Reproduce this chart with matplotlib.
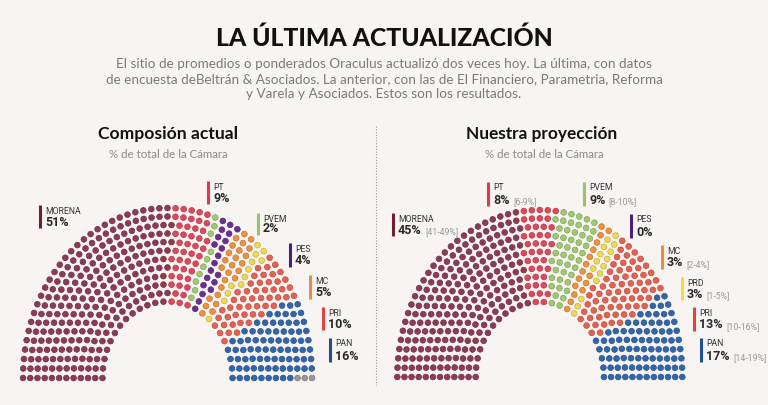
import numpy as np
import matplotlib
matplotlib.use('Agg')
import matplotlib.pyplot as plt
from matplotlib.colors import to_rgb

# ---------------- data ----------------
seat_parties_current = ['MORENA', 'PT', 'PVEM', 'PES', 'MC', 'PRD', 'PRI', 'PAN', 'SP']
seats_current = [255, 45, 10, 20, 25, 12, 50, 80, 3]

seat_parties_proj = ['MORENA', 'PT', 'PVEM', 'MC', 'PRD', 'PRI', 'PAN']
seats_proj = [226, 42, 46, 16, 15, 68, 87]

labels_current = ['MORENA', 'PT', 'PVEM', 'PES', 'MC', 'PRI', 'PAN']
pct_current = ['51%', '9%', '2%', '4%', '5%', '10%', '16%']

labels_proj = ['MORENA', 'PT', 'PVEM', 'PES', 'MC', 'PRD', 'PRI', 'PAN']
pct_proj = ['45%', '8%', '9%', '0%', '3%', '3%', '13%', '17%']
range_proj = ['[41-49%]', '[6-9%]', '[8-10%]', '', '[2-4%]', '[1-5%]', '[10-16%]', '[14-19%]']

dot_colors = {
    'MORENA': '#8c3b52', 'PT': '#e0475c', 'PVEM': '#9fcb70', 'PES': '#6b2f94',
    'MC': '#f0913e', 'PRD': '#f4d94e', 'PRI': '#e8604f', 'PAN': '#2f66ad', 'SP': '#9a9a9a',
}
bar_colors = {
    'MORENA': '#6e1f33', 'PT': '#dd3a50', 'PVEM': '#92c86a', 'PES': '#4d1f7a',
    'MC': '#ef8a3c', 'PRD': '#f3d94a', 'PRI': '#e0443e', 'PAN': '#1f4f9a',
}

BG = '#f8f4f2'

# ---------------- layout helpers ----------------
def seat_layout(total, rows=12, r_in=0.45):
    radii = np.linspace(r_in, 1.0, rows)
    raw = radii / radii.sum() * total
    n = np.floor(raw).astype(int)
    rem = total - n.sum()
    order = np.argsort(-(raw - n))
    n[order[:rem]] += 1
    pts = []
    for r, k in zip(radii, n):
        for t in np.linspace(np.pi, 0, k):
            pts.append((t, r))
    pts.sort(key=lambda p: (-round(p[0], 9), p[1]))
    return np.array(pts)


def darker(c, f=0.8):
    r, g, b = to_rgb(c)
    return (r * f, g * f, b * f)


def draw_hemicycle(ax, parties, seats, cx, by, rx, ry):
    pts = seat_layout(sum(seats))
    cols = []
    for p, s in zip(parties, seats):
        cols += [dot_colors[p]] * s
    edges = [darker(c) for c in cols]
    x = cx + rx * pts[:, 1] * np.cos(pts[:, 0])
    y = by - ry * pts[:, 1] * np.sin(pts[:, 0])
    ax.scatter(x, y, s=17, c=cols, edgecolors=edges, linewidths=0.5, zorder=3)


def party_label(ax, x, y0, y1, party, name, pct, rng=''):
    ax.plot([x, x], [y0, y1], color=bar_colors[party], lw=2.2, solid_capstyle='butt', zorder=4)
    ax.text(x + 5, y0 + 1.5, name, fontsize=6.2, family='Roboto', color='#333333',
            va='top', ha='left')
    t = ax.text(x + 5, y1 + 0.5, pct, fontsize=9, family='Roboto', fontweight='bold',
                color='#2a2a2a', va='bottom', ha='left')
    if rng:
        ax.annotate(rng, xy=(1, 0), xycoords=t, xytext=(2.5, 0.6), textcoords='offset points',
                    fontsize=6.3, family='Roboto', color='#9a9a9a', va='bottom', ha='left')


# ---------------- figure ----------------
fig = plt.figure(figsize=(7.68, 4.05), dpi=100, facecolor=BG)
ax = fig.add_axes([0, 0, 1, 1])
ax.set_xlim(0, 768)
ax.set_ylim(405, 0)
ax.axis('off')
ax.set_facecolor(BG)

ax.text(384, 38, 'LA ÚLTIMA ACTUALIZACIÓN', ha='center', va='center', fontsize=17.8,
        family='Lato', fontweight='black', color='#111111')
sub = ('El sitio de promedios o ponderados Oraculus actualizó dos veces hoy. La última, con datos\n'
       'de encuesta deBeltrán & Asociados. La anterior, con las de El Financiero, Parametria, Reforma\n'
       'y Varela y Asociados. Estos son los resultados.')
ax.text(384, 79.5, sub, ha='center', va='center', fontsize=9.7, family='Lato', color='#7a7a7a',
        linespacing=1.3)

ax.text(168, 134, 'Composión actual', ha='center', va='center', fontsize=12.6, family='Lato',
        fontweight='bold', color='#111111')
ax.text(168, 154, '% de total de la Cámara', ha='center', va='center', fontsize=8.3, family='Lato',
        color='#8a8a8a')
ax.text(542, 134, 'Nuestra proyección', ha='center', va='center', fontsize=12.4, family='Lato',
        fontweight='bold', color='#111111')
ax.text(544, 154, '% de total de la Cámara', ha='center', va='center', fontsize=8.3, family='Lato',
        color='#8a8a8a')

ax.plot([376, 376], [126, 385], color='#999999', lw=0.8, ls=(0, (1, 1.5)))

draw_hemicycle(ax, seat_parties_current, seats_current, 167.5, 378, 144.5, 170)
draw_hemicycle(ax, seat_parties_proj, seats_proj, 539.8, 377, 142.5, 167)

# label anchor positions (layout only)
cur_pos = {'MORENA': (40, 205, 228), 'PT': (208, 181, 204), 'PVEM': (258, 213, 235),
           'PES': (290, 243, 267), 'MC': (310, 275, 299), 'PRI': (323, 307, 330),
           'PAN': (330, 338, 362)}
proj_pos = {'MORENA': (393, 213, 236), 'PT': (488, 182, 206), 'PVEM': (584, 182, 206),
            'PES': (631, 214, 238), 'MC': (662, 245, 269), 'PRD': (682, 277, 300),
            'PRI': (694, 307, 331), 'PAN': (701, 338, 362)}

for name, pct in zip(labels_current, pct_current):
    x, y0, y1 = cur_pos[name]
    party_label(ax, x, y0, y1, name, name, pct)
for name, pct, rng in zip(labels_proj, pct_proj, range_proj):
    x, y0, y1 = proj_pos[name]
    party_label(ax, x, y0, y1, name, name, pct, rng)

fig.savefig('out.png', dpi=100, facecolor=BG)
